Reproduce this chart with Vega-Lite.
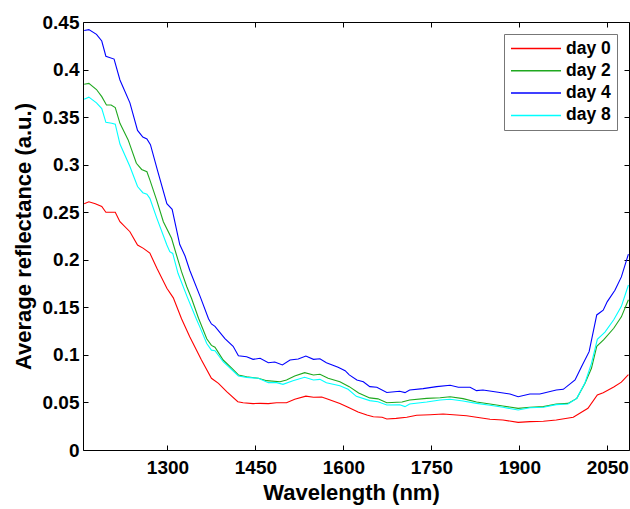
{
  "$schema": "https://vega.github.io/schema/vega-lite/v6.json",
  "width": 546,
  "height": 428,
  "autosize": "none",
  "padding": {"left": 83, "top": 22, "right": 1, "bottom": 59},
  "background": "white",
  "config": {
    "view": {"stroke": "black", "strokeWidth": 1},
    "font": "Liberation Sans",
    "axis": {"labelFont": "Liberation Sans", "titleFont": "Liberation Sans", "labelFontWeight": "bold", "titleFontWeight": "bold", "labelColor": "black", "titleColor": "black", "domainColor": "black", "tickColor": "black", "grid": false}
  },
  "datasets": {
    "spec": [
      {"wl":1158,"day":"day 4","r":0.441},{"wl":1166,"day":"day 4","r":0.442},{"wl":1179,"day":"day 4","r":0.437},{"wl":1188,"day":"day 4","r":0.430},{"wl":1195,"day":"day 4","r":0.414},{"wl":1209,"day":"day 4","r":0.411},{"wl":1219,"day":"day 4","r":0.389},{"wl":1236,"day":"day 4","r":0.365},{"wl":1249,"day":"day 4","r":0.336},{"wl":1258,"day":"day 4","r":0.329},{"wl":1265,"day":"day 4","r":0.327},{"wl":1271,"day":"day 4","r":0.321},{"wl":1283,"day":"day 4","r":0.294},{"wl":1299,"day":"day 4","r":0.259},{"wl":1308,"day":"day 4","r":0.253},{"wl":1321,"day":"day 4","r":0.216},{"wl":1330,"day":"day 4","r":0.204},{"wl":1338,"day":"day 4","r":0.189},{"wl":1356,"day":"day 4","r":0.161},{"wl":1370,"day":"day 4","r":0.138},{"wl":1375,"day":"day 4","r":0.1325},{"wl":1381,"day":"day 4","r":0.130},{"wl":1398,"day":"day 4","r":0.117},{"wl":1412,"day":"day 4","r":0.109},{"wl":1421,"day":"day 4","r":0.099},{"wl":1435,"day":"day 4","r":0.098},{"wl":1446,"day":"day 4","r":0.0953},{"wl":1458,"day":"day 4","r":0.0964},{"wl":1472,"day":"day 4","r":0.0918},{"wl":1483,"day":"day 4","r":0.0925},{"wl":1496,"day":"day 4","r":0.0894},{"wl":1509,"day":"day 4","r":0.0946},{"wl":1523,"day":"day 4","r":0.0957},{"wl":1536,"day":"day 4","r":0.0988},{"wl":1549,"day":"day 4","r":0.0953},{"wl":1560,"day":"day 4","r":0.096},{"wl":1571,"day":"day 4","r":0.0918},{"wl":1591,"day":"day 4","r":0.087},{"wl":1603,"day":"day 4","r":0.0834},{"wl":1610,"day":"day 4","r":0.079},{"wl":1623,"day":"day 4","r":0.0736},{"wl":1634,"day":"day 4","r":0.0718},{"wl":1645,"day":"day 4","r":0.0666},{"wl":1657,"day":"day 4","r":0.0659},{"wl":1674,"day":"day 4","r":0.0605},{"wl":1696,"day":"day 4","r":0.0617},{"wl":1705,"day":"day 4","r":0.0603},{"wl":1713,"day":"day 4","r":0.0631},{"wl":1736,"day":"day 4","r":0.0645},{"wl":1759,"day":"day 4","r":0.0666},{"wl":1782,"day":"day 4","r":0.068},{"wl":1796,"day":"day 4","r":0.0659},{"wl":1816,"day":"day 4","r":0.0659},{"wl":1827,"day":"day 4","r":0.0624},{"wl":1838,"day":"day 4","r":0.0631},{"wl":1861,"day":"day 4","r":0.061},{"wl":1884,"day":"day 4","r":0.0589},{"wl":1898,"day":"day 4","r":0.056},{"wl":1918,"day":"day 4","r":0.0589},{"wl":1935,"day":"day 4","r":0.0589},{"wl":1963,"day":"day 4","r":0.0631},{"wl":1975,"day":"day 4","r":0.0638},{"wl":1995,"day":"day 4","r":0.0736},{"wl":2006,"day":"day 4","r":0.0876},{"wl":2019,"day":"day 4","r":0.1034},{"wl":2032,"day":"day 4","r":0.142},{"wl":2043,"day":"day 4","r":0.147},{"wl":2050,"day":"day 4","r":0.156},{"wl":2063,"day":"day 4","r":0.168},{"wl":2074,"day":"day 4","r":0.182},{"wl":2086,"day":"day 4","r":0.206},
      {"wl":1158,"day":"day 0","r":0.259},{"wl":1166,"day":"day 0","r":0.261},{"wl":1177,"day":"day 0","r":0.259},{"wl":1188,"day":"day 0","r":0.256},{"wl":1195,"day":"day 0","r":0.250},{"wl":1211,"day":"day 0","r":0.250},{"wl":1219,"day":"day 0","r":0.240},{"wl":1236,"day":"day 0","r":0.2295},{"wl":1249,"day":"day 0","r":0.2155},{"wl":1259,"day":"day 0","r":0.212},{"wl":1270,"day":"day 0","r":0.207},{"wl":1282,"day":"day 0","r":0.191},{"wl":1299,"day":"day 0","r":0.170},{"wl":1310,"day":"day 0","r":0.160},{"wl":1324,"day":"day 0","r":0.138},{"wl":1338,"day":"day 0","r":0.119},{"wl":1358,"day":"day 0","r":0.0946},{"wl":1375,"day":"day 0","r":0.0754},{"wl":1387,"day":"day 0","r":0.0701},{"wl":1401,"day":"day 0","r":0.0613},{"wl":1420,"day":"day 0","r":0.0508},{"wl":1429,"day":"day 0","r":0.0497},{"wl":1446,"day":"day 0","r":0.0488},{"wl":1458,"day":"day 0","r":0.049},{"wl":1472,"day":"day 0","r":0.0488},{"wl":1486,"day":"day 0","r":0.0497},{"wl":1503,"day":"day 0","r":0.0497},{"wl":1517,"day":"day 0","r":0.0533},{"wl":1536,"day":"day 0","r":0.0566},{"wl":1549,"day":"day 0","r":0.0554},{"wl":1563,"day":"day 0","r":0.0557},{"wl":1574,"day":"day 0","r":0.0533},{"wl":1594,"day":"day 0","r":0.049},{"wl":1608,"day":"day 0","r":0.0449},{"wl":1625,"day":"day 0","r":0.040},{"wl":1640,"day":"day 0","r":0.0368},{"wl":1651,"day":"day 0","r":0.035},{"wl":1666,"day":"day 0","r":0.0344},{"wl":1674,"day":"day 0","r":0.0326},{"wl":1690,"day":"day 0","r":0.0333},{"wl":1708,"day":"day 0","r":0.0344},{"wl":1725,"day":"day 0","r":0.0365},{"wl":1748,"day":"day 0","r":0.0371},{"wl":1770,"day":"day 0","r":0.0379},{"wl":1793,"day":"day 0","r":0.0368},{"wl":1810,"day":"day 0","r":0.036},{"wl":1827,"day":"day 0","r":0.0344},{"wl":1850,"day":"day 0","r":0.0323},{"wl":1872,"day":"day 0","r":0.0315},{"wl":1898,"day":"day 0","r":0.0291},{"wl":1918,"day":"day 0","r":0.0298},{"wl":1941,"day":"day 0","r":0.0302},{"wl":1963,"day":"day 0","r":0.0315},{"wl":1992,"day":"day 0","r":0.0344},{"wl":2017,"day":"day 0","r":0.0438},{"wl":2033,"day":"day 0","r":0.0578},{"wl":2043,"day":"day 0","r":0.0603},{"wl":2061,"day":"day 0","r":0.0662},{"wl":2074,"day":"day 0","r":0.0713},{"wl":2086,"day":"day 0","r":0.0792},
      {"wl":1158,"day":"day 2","r":0.3845},{"wl":1166,"day":"day 2","r":0.3855},{"wl":1179,"day":"day 2","r":0.379},{"wl":1188,"day":"day 2","r":0.3715},{"wl":1196,"day":"day 2","r":0.3627},{"wl":1204,"day":"day 2","r":0.3627},{"wl":1211,"day":"day 2","r":0.360},{"wl":1219,"day":"day 2","r":0.3435},{"wl":1233,"day":"day 2","r":0.326},{"wl":1247,"day":"day 2","r":0.3015},{"wl":1256,"day":"day 2","r":0.295},{"wl":1265,"day":"day 2","r":0.2926},{"wl":1270,"day":"day 2","r":0.284},{"wl":1282,"day":"day 2","r":0.262},{"wl":1293,"day":"day 2","r":0.240},{"wl":1307,"day":"day 2","r":0.2226},{"wl":1313,"day":"day 2","r":0.210},{"wl":1324,"day":"day 2","r":0.1875},{"wl":1333,"day":"day 2","r":0.1717},{"wl":1341,"day":"day 2","r":0.1595},{"wl":1353,"day":"day 2","r":0.1385},{"wl":1367,"day":"day 2","r":0.117},{"wl":1375,"day":"day 2","r":0.110},{"wl":1381,"day":"day 2","r":0.108},{"wl":1395,"day":"day 2","r":0.0946},{"wl":1410,"day":"day 2","r":0.0859},{"wl":1421,"day":"day 2","r":0.0789},{"wl":1435,"day":"day 2","r":0.077},{"wl":1455,"day":"day 2","r":0.0754},{"wl":1469,"day":"day 2","r":0.0729},{"wl":1492,"day":"day 2","r":0.0718},{"wl":1503,"day":"day 2","r":0.0736},{"wl":1517,"day":"day 2","r":0.0778},{"wl":1534,"day":"day 2","r":0.0813},{"wl":1549,"day":"day 2","r":0.0789},{"wl":1560,"day":"day 2","r":0.0796},{"wl":1574,"day":"day 2","r":0.0754},{"wl":1594,"day":"day 2","r":0.0718},{"wl":1610,"day":"day 2","r":0.0666},{"wl":1626,"day":"day 2","r":0.0600},{"wl":1645,"day":"day 2","r":0.0548},{"wl":1659,"day":"day 2","r":0.0538},{"wl":1674,"day":"day 2","r":0.0497},{"wl":1700,"day":"day 2","r":0.0505},{"wl":1713,"day":"day 2","r":0.0526},{"wl":1742,"day":"day 2","r":0.0543},{"wl":1765,"day":"day 2","r":0.055},{"wl":1782,"day":"day 2","r":0.056},{"wl":1804,"day":"day 2","r":0.054},{"wl":1827,"day":"day 2","r":0.0505},{"wl":1850,"day":"day 2","r":0.0484},{"wl":1872,"day":"day 2","r":0.0463},{"wl":1898,"day":"day 2","r":0.0438},{"wl":1918,"day":"day 2","r":0.0449},{"wl":1941,"day":"day 2","r":0.0456},{"wl":1963,"day":"day 2","r":0.0484},{"wl":1983,"day":"day 2","r":0.049},{"wl":1998,"day":"day 2","r":0.0543},{"wl":2012,"day":"day 2","r":0.0701},{"wl":2023,"day":"day 2","r":0.0859},{"wl":2032,"day":"day 2","r":0.109},{"wl":2044,"day":"day 2","r":0.116},{"wl":2061,"day":"day 2","r":0.128},{"wl":2074,"day":"day 2","r":0.140},{"wl":2086,"day":"day 2","r":0.158},
      {"wl":1158,"day":"day 8","r":0.3687},{"wl":1166,"day":"day 8","r":0.371},{"wl":1179,"day":"day 8","r":0.365},{"wl":1188,"day":"day 8","r":0.359},{"wl":1195,"day":"day 8","r":0.3445},{"wl":1205,"day":"day 8","r":0.3435},{"wl":1211,"day":"day 8","r":0.3425},{"wl":1219,"day":"day 8","r":0.3217},{"wl":1236,"day":"day 8","r":0.298},{"wl":1249,"day":"day 8","r":0.277},{"wl":1258,"day":"day 8","r":0.2705},{"wl":1265,"day":"day 8","r":0.269},{"wl":1270,"day":"day 8","r":0.2646},{"wl":1282,"day":"day 8","r":0.2436},{"wl":1299,"day":"day 8","r":0.2155},{"wl":1304,"day":"day 8","r":0.2085},{"wl":1309,"day":"day 8","r":0.2067},{"wl":1318,"day":"day 8","r":0.1858},{"wl":1334,"day":"day 8","r":0.1605},{"wl":1350,"day":"day 8","r":0.1367},{"wl":1355,"day":"day 8","r":0.1297},{"wl":1367,"day":"day 8","r":0.112},{"wl":1375,"day":"day 8","r":0.105},{"wl":1381,"day":"day 8","r":0.1044},{"wl":1395,"day":"day 8","r":0.0928},{"wl":1421,"day":"day 8","r":0.0778},{"wl":1435,"day":"day 8","r":0.0764},{"wl":1455,"day":"day 8","r":0.0754},{"wl":1472,"day":"day 8","r":0.0708},{"wl":1486,"day":"day 8","r":0.0708},{"wl":1497,"day":"day 8","r":0.069},{"wl":1514,"day":"day 8","r":0.0729},{"wl":1534,"day":"day 8","r":0.0764},{"wl":1549,"day":"day 8","r":0.0736},{"wl":1560,"day":"day 8","r":0.0743},{"wl":1571,"day":"day 8","r":0.0708},{"wl":1594,"day":"day 8","r":0.0675},{"wl":1608,"day":"day 8","r":0.0638},{"wl":1622,"day":"day 8","r":0.0564},{"wl":1645,"day":"day 8","r":0.0519},{"wl":1659,"day":"day 8","r":0.0508},{"wl":1674,"day":"day 8","r":0.0473},{"wl":1696,"day":"day 8","r":0.0476},{"wl":1705,"day":"day 8","r":0.0456},{"wl":1713,"day":"day 8","r":0.0484},{"wl":1742,"day":"day 8","r":0.0505},{"wl":1765,"day":"day 8","r":0.0526},{"wl":1782,"day":"day 8","r":0.0533},{"wl":1804,"day":"day 8","r":0.0515},{"wl":1827,"day":"day 8","r":0.049},{"wl":1850,"day":"day 8","r":0.047},{"wl":1872,"day":"day 8","r":0.0449},{"wl":1898,"day":"day 8","r":0.042},{"wl":1918,"day":"day 8","r":0.0445},{"wl":1941,"day":"day 8","r":0.0449},{"wl":1963,"day":"day 8","r":0.0477},{"wl":1983,"day":"day 8","r":0.0484},{"wl":1998,"day":"day 8","r":0.0543},{"wl":2012,"day":"day 8","r":0.0708},{"wl":2023,"day":"day 8","r":0.091},{"wl":2033,"day":"day 8","r":0.1164},{"wl":2046,"day":"day 8","r":0.124},{"wl":2061,"day":"day 8","r":0.137},{"wl":2074,"day":"day 8","r":0.151},{"wl":2086,"day":"day 8","r":0.1735}
    ]
  },
  "data": {"name": "spec"},
  "layer": [
    {
      "mark": {"type": "line", "strokeWidth": 1.1},
      "encoding": {
        "x": {"field": "wl", "type": "quantitative", "scale": {"domain": [1156, 2087], "nice": false, "zero": false},
              "axis": {"orient": "bottom", "values": [1300, 1450, 1600, 1750, 1900, 2050], "format": "d", "title": "Wavelength (nm)", "labelFontSize": 19, "titleFontSize": 22, "tickSize": -5, "labelPadding": 13, "titlePadding": 5, "titleX": 268, "domain": false}},
        "y": {"field": "r", "type": "quantitative", "scale": {"domain": [0, 0.45], "nice": false},
              "axis": {"orient": "left", "values": [0, 0.05, 0.1, 0.15, 0.2, 0.25, 0.3, 0.35, 0.4, 0.45], "format": "~g", "title": "Average reflectance (a.u.)", "labelFontSize": 19, "titleFontSize": 22, "tickSize": -5, "labelPadding": 9, "titlePadding": 7, "domain": false}},
        "color": {"field": "day", "type": "nominal",
                  "scale": {"domain": ["day 0", "day 2", "day 4", "day 8"], "range": ["#ff0000", "#1fa81f", "#0000ff", "#00ffff"]},
                  "legend": {"orient": "none", "legendX": 421, "legendY": 12, "title": null, "symbolType": "stroke", "symbolSize": 2500, "symbolStrokeWidth": 1.5, "clipHeight": 17, "labelFont": "Liberation Sans", "labelFontSize": 17.5, "labelFontWeight": "bold", "labelColor": "black", "strokeColor": "#777777", "fillColor": "white", "padding": 6, "rowPadding": 4.3, "labelOffset": 4}},
        "detail": {"field": "day"}
      }
    },
    {
      "mark": {"type": "line", "opacity": 0},
      "encoding": {
        "x": {"field": "wl", "type": "quantitative", "axis": {"orient": "top", "values": [1300, 1450, 1600, 1750, 1900, 2050], "labels": false, "title": null, "tickSize": -5, "domain": false}},
        "y": {"field": "r", "type": "quantitative", "axis": {"orient": "right", "values": [0, 0.05, 0.1, 0.15, 0.2, 0.25, 0.3, 0.35, 0.4, 0.45], "labels": false, "title": null, "tickSize": -5, "domain": false}},
        "detail": {"field": "day"}
      }
    }
  ],
  "resolve": {"axis": {"x": "independent", "y": "independent"}}
}
